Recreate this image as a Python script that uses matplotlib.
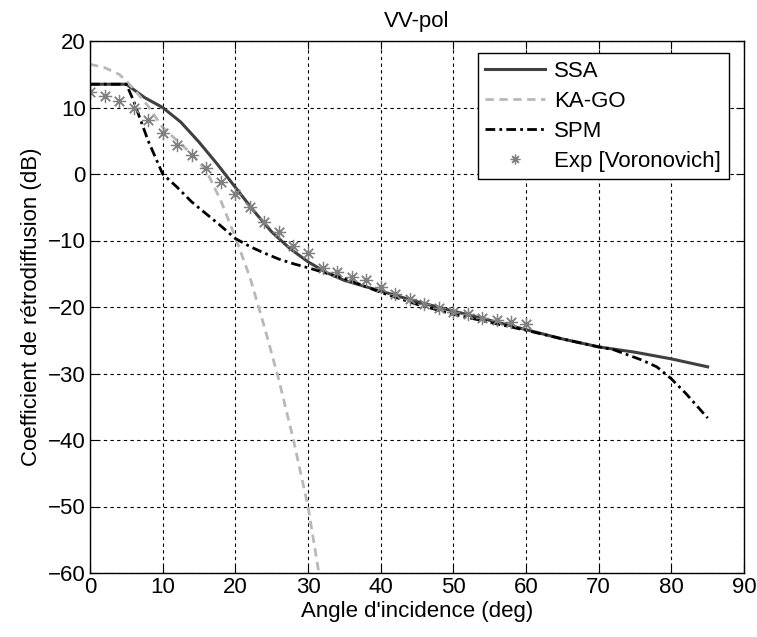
import matplotlib
matplotlib.use("Agg")
import matplotlib.pyplot as plt

plt.rcParams['font.family'] = ['Liberation Sans', 'DejaVu Sans']

# SSA
ssa_x = [0, 5, 7.5, 10, 12.5, 15, 17.5, 20, 22.5, 25, 27.5, 30, 32.5, 35, 40, 45, 50, 55, 60, 65, 70, 75, 80, 85]
ssa_y = [13.5, 13.5, 11.5, 10.0, 7.8, 4.8, 1.5, -2.0, -5.5, -8.7, -11.2, -13.2, -14.8, -16.0, -17.6, -19.2, -20.6, -22.0, -23.4, -24.8, -26.0, -26.8, -27.8, -29.0]

# KA-GO
ka_x = [0, 2, 4, 5, 6, 8, 10, 12, 14, 16, 18, 20, 22, 24, 26, 28, 30, 31.5]
ka_y = [16.5, 16.0, 15.0, 14.0, 12.8, 10.2, 7.0, 5.0, 3.0, 0.5, -4.0, -9.5, -15.5, -23.0, -31.0, -40.0, -50.0, -60.0]

# SPM
spm_x = [0, 5, 6, 7, 8, 9, 10, 12, 14, 16, 18, 20, 22, 24, 26, 28, 30, 35, 40, 45, 50, 55, 60, 65, 70, 72, 74, 76, 78, 80, 82, 85]
spm_y = [13.5, 13.5, 11.0, 8.0, 5.0, 2.5, 0.0, -2.0, -4.2, -6.0, -7.8, -9.7, -10.9, -11.9, -12.8, -13.5, -14.1, -15.7, -17.8, -19.6, -21.1, -22.3, -23.5, -24.8, -26.0, -26.4, -27.2, -28.0, -29.0, -30.8, -33.0, -36.7]

# Exp [Voronovich]
exp_x = [0, 2, 4, 6, 8, 10, 12, 14, 16, 18, 20, 22, 24, 26, 28, 30, 32, 34, 36, 38, 40, 42, 44, 46, 48, 50, 52, 54, 56, 58, 60]
exp_y = [12.3, 11.7, 11.0, 10.0, 8.1, 6.2, 4.4, 2.9, 0.9, -1.2, -3.0, -5.0, -7.2, -8.7, -10.8, -11.9, -14.1, -14.7, -15.5, -15.9, -17.0, -18.0, -18.8, -19.6, -20.2, -20.7, -21.1, -21.6, -22.0, -22.3, -22.5]

xticks = [0, 10, 20, 30, 40, 50, 60, 70, 80, 90]
yticks = [20, 10, 0, -10, -20, -30, -40, -50, -60]

fig = plt.figure(figsize=(7.57, 6.37), dpi=100)
ax = fig.add_axes([90/757, 1-573/637, (744-90)/757, (573-41)/637])

ax.plot(ssa_x, ssa_y, '-', color='#404040', lw=2.2, label='SSA')
ax.plot(ka_x, ka_y, '--', color='#b8b8b8', lw=2.0, label='KA-GO', dashes=(3, 2))
ax.plot(spm_x, spm_y, '-.', color='black', lw=2.0, label='SPM', dashes=(3.5, 1.5, 1, 1.5))
ax.plot(exp_x, exp_y, linestyle='none', marker=(8, 2, 0), markersize=9.5,
        mew=0.9, color='#808080', label='Exp [Voronovich]')

ax.set_xlim(0, 90)
ax.set_ylim(-60, 20)
ax.set_xticks(xticks)
ax.set_yticks(yticks)
ax.grid(True, color='black', linestyle=(0, (3, 3)), lw=0.8)
ax.tick_params(direction='in', top=True, right=True, labelsize=16, length=6, pad=3)
for s in ax.spines.values():
    s.set_linewidth(1.0)

ax.set_title('VV-pol', fontsize=16, pad=10)
ax.set_xlabel("Angle d'incidence (deg)", fontsize=16, labelpad=2)
ax.set_ylabel('Coefficient de rétrodiffusion (dB)', fontsize=16, labelpad=4)

leg = ax.legend(loc='upper right', bbox_to_anchor=(0.977, 0.977), borderaxespad=0,
                fontsize=16, handlelength=2.7, labelspacing=0.4, fancybox=False,
                framealpha=1, edgecolor='black', borderpad=0.35, handletextpad=0.4)
leg.get_frame().set_linewidth(1.0)
leg.legend_handles[3].set_markersize(7)

fig.savefig('out.png', dpi=100)
